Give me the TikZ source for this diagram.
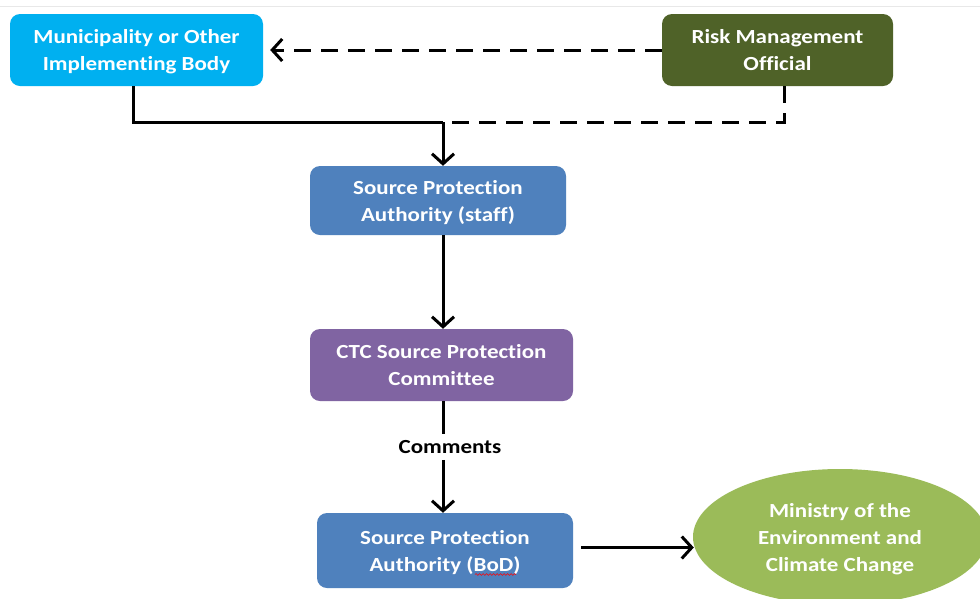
\documentclass[tikz,border=0pt]{standalone}
\usepackage{fontspec}
\setmainfont[FakeStretch=1.15, Ligatures=NoCommon]{Carlito}
\usetikzlibrary{arrows.meta,shapes.geometric,decorations.pathmorphing,calc}
\definecolor{cMun}{HTML}{00B0F0}
\definecolor{cRisk}{HTML}{4F6228}
\definecolor{cSPA}{HTML}{4F81BD}
\definecolor{cCTC}{HTML}{8064A2}
\definecolor{cMin}{HTML}{9BBB59}
\tikzset{
  box/.style={rectangle, rounded corners=10pt, draw=none, text=white,
    font=\bfseries\fontsize{20}{27}\selectfont, align=center, inner sep=0pt,
    text depth=-1pt},
  oval/.style={ellipse, draw=none, fill=cMin, text=white,
    font=\bfseries\fontsize{20}{27}\selectfont, align=center, inner sep=0pt,
    text depth=-1pt},
  conn/.style={line width=3pt, -{Straight Barb[length=10pt,width=22pt]}},
  plain/.style={line width=3pt},
  dashconn/.style={line width=3pt, dash pattern=on 17pt off 10pt},
  lbl/.style={font=\bfseries\fontsize{20}{22}\selectfont, text=black, inner sep=6pt}
}
\begin{document}
\begin{tikzpicture}[x=1pt,y=-1pt]
\useasboundingbox (0,0) rectangle (980,598);
\clip (0,0) rectangle (980,598);
\fill[white] (0,0) rectangle (980,598);
\draw[gray!18, line width=1pt] (0,6) -- (980,6);

\node[box, fill=cMun, minimum width=253pt, minimum height=72pt] (mun) at (136.5,50) {Municipality or Other\\Implementing Body};
\node[box, fill=cRisk, minimum width=231pt, minimum height=72pt] (risk) at (777.5,50) {Risk Management\\Official};
\node[box, fill=cSPA, minimum width=256pt, minimum height=69pt] (spa) at (438,200.5) {Source Protection\\Authority (staff)};
\node[box, fill=cCTC, minimum width=263pt, minimum height=72pt] (ctc) at (441.5,365) {CTC Source Protection\\Committee};
\node[box, fill=cSPA, minimum width=256pt, minimum height=75pt] (bod) at (445,550.5) {Source Protection\\Authority (BoD)};
\node[oval, minimum width=294pt, minimum height=136pt] (min) at (840,537) {Ministry of the\\Environment and\\Climate Change};
\node[lbl] (com) at (450,447) {Comments};

\coordinate (j) at (443,122);
\coordinate (mx) at (133,0);
\coordinate (rx) at (784,0);

% spelling squiggle under BoD
\draw[red, line width=0.6pt, decorate, decoration={snake, amplitude=0.9pt, segment length=3.5pt}]
  ($(bod.center)+(30,24)$) -- ($(bod.center)+(71,24)$);

\draw[plain, line join=miter] (mun.south -| mx) |- (j);
\draw[dashconn] (risk.south -| rx) |- (j);
\draw[conn] (j) -- (spa.north -| j);
\draw[dashconn, -{Straight Barb[length=10pt,width=22pt]}, shorten >=7pt] (risk.west) -- (mun.east);
\draw[conn] (spa.south -| j) -- (ctc.north -| j);
\draw[plain] (ctc.south -| j) -- (com.north -| j);
\draw[conn] (com.south -| j) -- (bod.north -| j);
\draw[conn, shorten <=8pt] ($(bod.east)+(0,-3)$) -- ($(bod.east -| min.west)+(1,-3)$);
\end{tikzpicture}
\end{document}
